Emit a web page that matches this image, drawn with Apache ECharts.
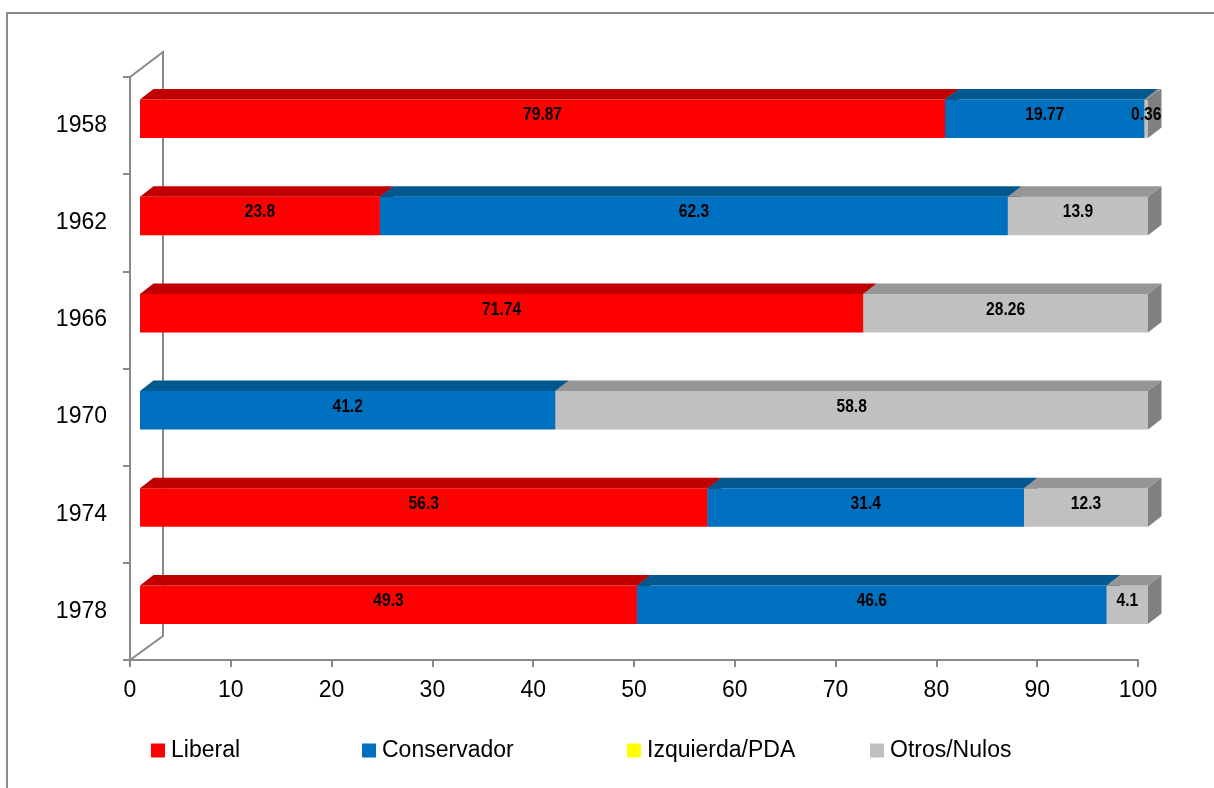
<!DOCTYPE html>
<html>
<head>
<meta charset="utf-8">
<script src="https://cdn.jsdelivr.net/npm/echarts@6/dist/echarts.min.js"></script>
<style>
html, body { margin: 0; padding: 0; background: #fff; }
#chart { width: 1214px; height: 788px; }
</style>
</head>
<body>
<div id="chart"></div>
<script>
// datos de la gráfica (porcentaje por año)
var years = ['1958', '1962', '1966', '1970', '1974', '1978'];
var liberal = [79.87, 23.8, 71.74, 0, 56.3, 49.3];
var conservador = [19.77, 62.3, 0, 41.2, 31.4, 46.6];
var izquierda = [0, 0, 0, 0, 0, 0];
var otros = [0.36, 13.9, 28.26, 58.8, 12.3, 4.1];

var FONT = '"Liberation Sans Narrow", "Arial Narrow", "Liberation Sans", Arial, sans-serif';
var AXIS_COLOR = '#898989';

var partidos = [
    { name: 'Liberal', values: liberal, front: '#FF0000', top: '#C00000', side: '#A00000' },
    { name: 'Conservador', values: conservador, front: '#0070C0', top: '#00588F', side: '#004C80' },
    { name: 'Izquierda/PDA', values: izquierda, front: '#FFFF00', top: '#CCCC00', side: '#AAAA00' },
    { name: 'Otros/Nulos', values: otros, front: '#C0C0C0', top: '#969696', side: '#808080' }
];

// barra con cara frontal, superior y lateral (efecto 3D tipo Excel)
function makeRender(p) {
    return function (params, api) {
        var s = api.value(0), e = api.value(1), cat = api.value(2), v = api.value(3);
        if (!(v > 0)) return null;
        var a = api.coord([s, cat]);
        var b = api.coord([e, cat]);
        var x0 = a[0] + 10, x1 = b[0] + 10, c = a[1];
        var yt = c - 26, yb = c + 12.5;
        var dx = 13.5, dy = 10.5;
        return {
            type: 'group',
            children: [
                { type: 'rect', shape: { x: x0, y: yt, width: x1 - x0, height: yb - yt }, style: { fill: p.front } },
                { type: 'polygon', shape: { points: [[x0, yt], [x0 + dx, yt - dy], [x1 + dx, yt - dy], [x1, yt]] }, style: { fill: p.top } },
                { type: 'polygon', shape: { points: [[x1, yt], [x1 + dx, yt - dy], [x1 + dx, yb - dy], [x1, yb]] }, style: { fill: p.side } },
                {
                    // texto "estrecho" (Arial Narrow no está disponible)
                    type: 'text', z2: 10,
                    x: (x0 + x1) / 2, y: c - 10.5, scaleX: 0.82,
                    style: {
                        text: String(v), x: 0, y: 0,
                        align: 'center', verticalAlign: 'middle',
                        fill: '#000', font: 'bold 19px ' + FONT
                    }
                }
            ]
        };
    };
}

var acum = years.map(function () { return 0; });
var series = partidos.map(function (p, k) {
    var data = years.map(function (y, i) {
        var s = acum[i];
        acum[i] += p.values[i];
        return [s, acum[i], i, p.values[i]];
    });
    return {
        type: 'custom',
        name: p.name,
        z: 2 + k,
        clip: false,
        itemStyle: { color: p.front },
        renderItem: makeRender(p),
        data: data
    };
});

var legendLeft = [151, 362, 627, 870];
var legends = partidos.map(function (p, k) {
    return {
        data: [p.name],
        left: legendLeft[k],
        top: 739,
        padding: 0,
        icon: 'rect',
        itemWidth: 14,
        itemHeight: 14,
        selectedMode: false,
        textStyle: { fontSize: 23, fontFamily: FONT, color: '#000', padding: [0, 0, 0, 1] }
    };
});

var option = {
    animation: false,
    backgroundColor: '#fff',
    grid: { left: 130, right: 76, top: 77, bottom: 128 },
    legend: legends,
    xAxis: {
        type: 'value',
        min: 0,
        max: 100,
        interval: 10,
        axisLine: { show: true, lineStyle: { color: AXIS_COLOR, width: 2 } },
        axisTick: { show: true, length: 7, lineStyle: { color: AXIS_COLOR, width: 2 } },
        axisLabel: { fontSize: 23, fontFamily: FONT, color: '#000', margin: 19 },
        splitLine: { show: false }
    },
    yAxis: {
        type: 'category',
        data: years,
        inverse: true,
        axisLine: { show: true, lineStyle: { color: AXIS_COLOR, width: 2 } },
        axisTick: { show: true, length: 7, alignWithLabel: false, lineStyle: { color: AXIS_COLOR, width: 2 } },
        axisLabel: { fontSize: 23, fontFamily: FONT, color: '#000', margin: 23 },
        splitLine: { show: false }
    },
    graphic: [
        // marco del gráfico
        { type: 'rect', z: 0, shape: { x: 7, y: 13, width: 1400, height: 1000 }, style: { fill: null, stroke: '#8c8c8c', lineWidth: 2 } },
        // pared lateral (profundidad 3D)
        { type: 'polyline', z: 0, shape: { points: [[130, 77], [163, 52], [163, 636], [130, 660]] }, style: { fill: null, stroke: AXIS_COLOR, lineWidth: 2 } }
    ],
    series: series
};

var myChart = echarts.init(document.getElementById('chart'));
myChart.setOption(option);
</script>
</body>
</html>
